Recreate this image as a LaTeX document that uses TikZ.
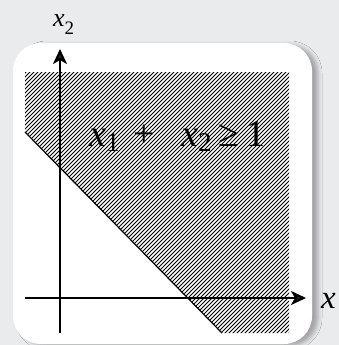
\documentclass[tikz,border=0pt]{standalone}
\usepackage{fontspec}
\setmainfont{Liberation Serif}
\usetikzlibrary{arrows.meta,shadows.blur}
\definecolor{bg}{RGB}{234,235,237}
\begin{document}
\begin{tikzpicture}[x=1pt,y=-1pt,
  axis/.style={line width=2.2pt,-{Stealth[length=15pt,width=14pt,inset=4pt]}},
  hatch/.style={line width=1pt},
  lbl/.style={inner sep=0pt,anchor=base west}]
\clip (0,0) rectangle (339,345);
\fill[bg] (0,0) rectangle (339,345);
\fill[white, rounded corners=28pt, blur shadow={shadow xshift=6pt,shadow yshift=-2pt,shadow blur radius=4pt,shadow opacity=30}] (13,43) rectangle (312,344);
\coordinate (d1) at (25,132);
\coordinate (d2) at (222,333);
\begin{scope}
\clip (25,72) -- (289,72) -- (289,333) -- (d2) -- (d1) -- cycle;
\foreach \c in {90,94,...,640} \draw[hatch] (\c,0) -- (\c-345,345);
\end{scope}
\draw[line width=1.2pt] (d1) -- (d2);
\coordinate (ys) at (60,333); \coordinate (ye) at (60,49);
\coordinate (xs) at (25,298); \coordinate (xe) at (306,298);
\draw[axis] (ys) -- (ye);
\draw[axis] (xs) -- (xe);
\node[lbl,font=\fontsize{26}{26}\selectfont] (lx2) at (53,27) {\textit{x}\raisebox{-8pt}{\fontsize{19}{19}\selectfont 2}};
\node[lbl,font=\fontsize{33}{33}\selectfont] (lx1) at (321,308) {\textit{x}};
\node[lbl,font=\fontsize{38}{38}\selectfont] (eq) at (89,146) {\textit{x}\raisebox{-5pt}{\fontsize{27}{27}\selectfont 1}\hspace{13.6pt}+\hspace{26.6pt}\textit{x}\raisebox{-5pt}{\fontsize{27}{27}\selectfont 2}\hspace{6.6pt}≥\hspace{7pt}1};
\end{tikzpicture}
\end{document}
